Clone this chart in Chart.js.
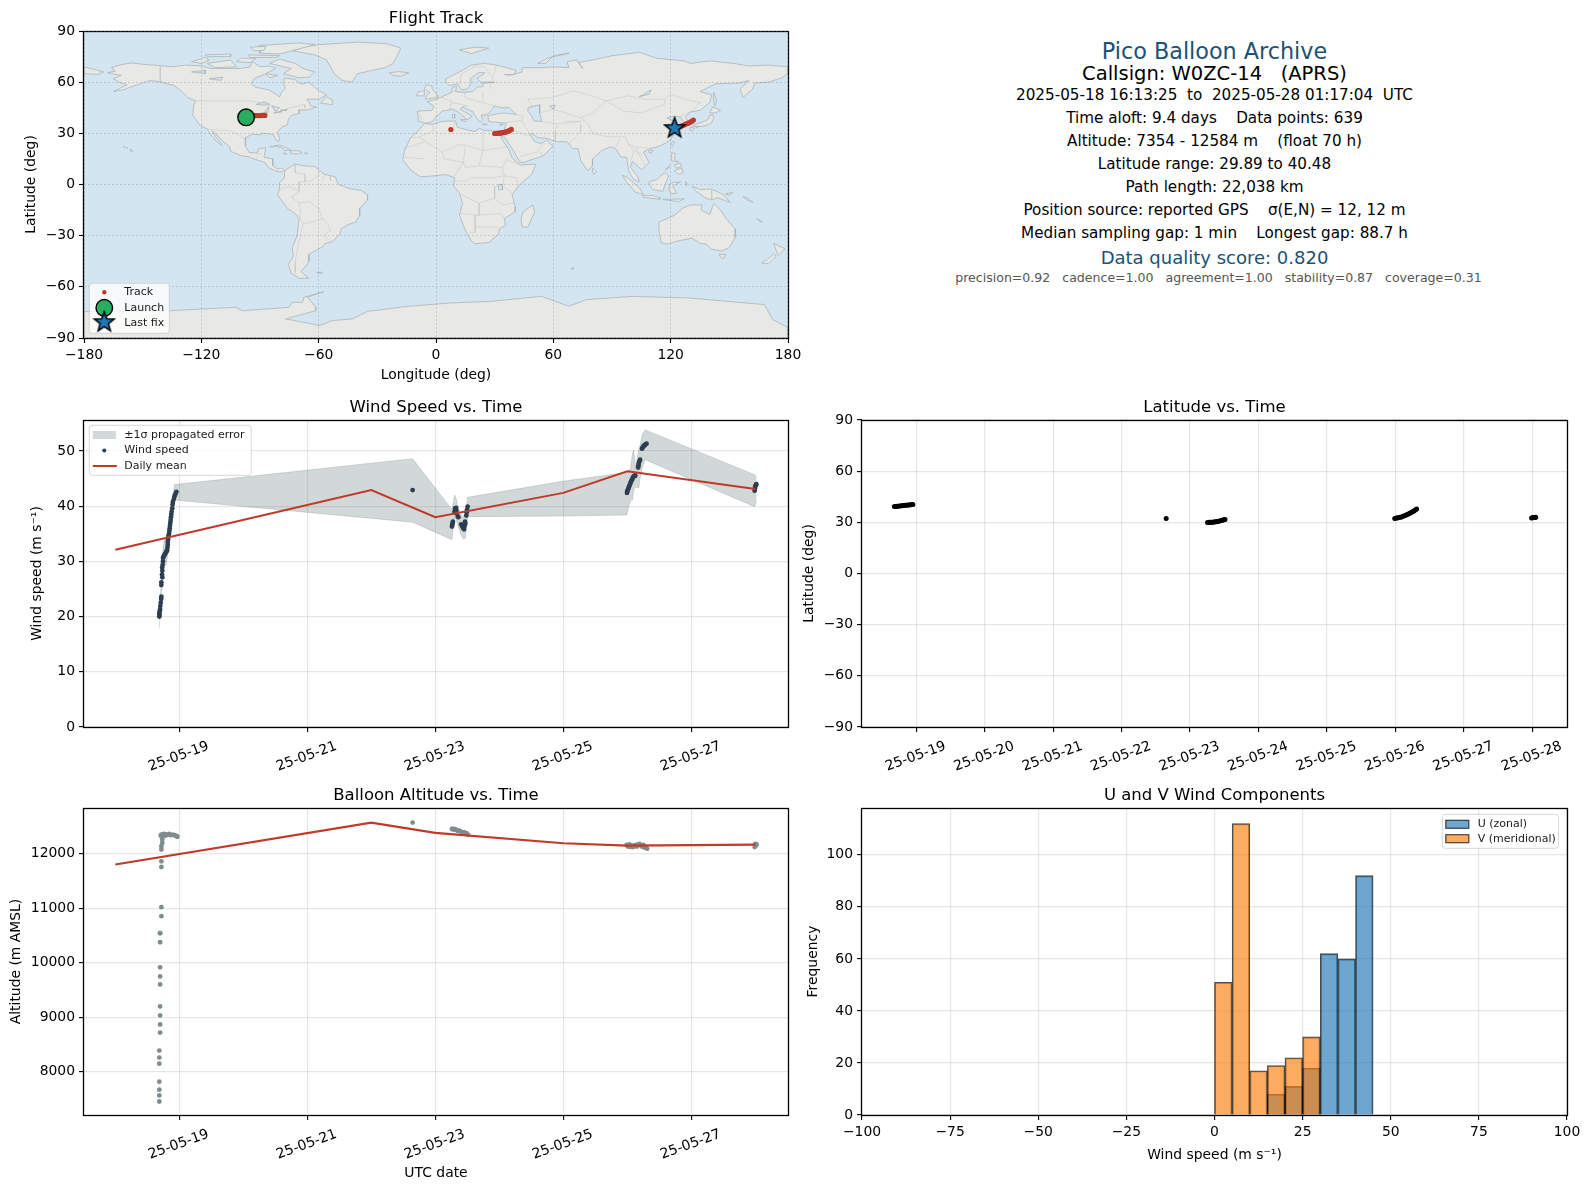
<!DOCTYPE html>
<html>
<head>
<meta charset="utf-8">
<title>Pico Balloon Archive</title>
<script src="https://cdn.jsdelivr.net/npm/chart.js@4"></script>
<style>
  body { margin: 0; background: #fff; font-family: "DejaVu Sans", sans-serif; }
  canvas { position: absolute; }
  .info { position: absolute; transform: translate(-50%, -50%); white-space: pre; color: #000; }
</style>
</head>
<body>
<script>
// Tick labels
const lonTicks = [-180, -120, -60, 0, 60, 120, 180];
const latTicks = [-90, -60, -30, 0, 30, 60, 90];
const windTicks = [0, 10, 20, 30, 40, 50];
const altTicks = [8000, 9000, 10000, 11000, 12000];
const everyOtherDay = [19, 21, 23, 25, 27];
const everyDay = [19, 20, 21, 22, 23, 24, 25, 26, 27, 28];
const histXTicks = [-100, -75, -50, -25, 0, 25, 50, 75, 100];
const histYTicks = [0, 20, 40, 60, 80, 100];

// Wind speed points (day of May 2025, m/s)
const windDays = [18.688, 18.69, 18.688, 18.695, 18.70, 18.703, 18.71, 18.717, 18.72, 18.719, 18.72, 18.735, 18.73, 18.735, 18.733, 18.74, 18.745, 18.745, 18.755, 18.765, 18.775, 18.79, 18.80, 18.81, 18.815, 18.82, 18.82, 18.825, 18.83, 18.84, 18.845, 18.85, 18.855, 18.86, 18.865, 18.87, 18.875, 18.88, 18.89, 18.895, 18.90, 18.915, 18.925, 18.94, 18.955,
  22.646,
  23.26, 23.265, 23.27, 23.276, 23.30, 23.31, 23.315, 23.325, 23.33, 23.31, 23.35, 23.36, 23.405, 23.42, 23.44, 23.45, 23.455, 23.47, 23.465, 23.485, 23.49, 23.495, 23.505,
  25.995, 26.00, 26.01, 26.02, 26.03, 26.04, 26.05, 26.06, 26.07, 26.08, 26.09, 26.10, 26.115, 26.125, 26.17, 26.175, 26.18, 26.19, 26.20, 26.23, 26.24, 26.255, 26.27, 26.285, 26.30,
  27.99, 27.995, 28.00, 28.01, 28.016];
const windSpeeds = [20.0, 20.3, 20.6, 21.0, 21.3, 21.9, 22.5, 23.2, 23.6, 25.7, 26.2, 27.1, 27.6, 28.3, 28.9, 29.4, 30.0, 30.6, 30.9, 31.1, 31.3, 31.6, 31.8, 32.0, 32.5, 33.0, 33.5, 34.0, 34.6, 35.0, 35.5, 36.0, 36.5, 37.0, 37.5, 38.0, 38.5, 39.0, 39.6, 40.3, 40.8, 41.3, 41.8, 42.2, 42.6,
  42.9,
  36.3, 36.6, 36.9, 37.2, 39.0, 39.6, 39.3, 39.7, 39.2, 38.8, 38.2, 38.0, 36.7, 36.3, 36.0, 35.8, 36.3, 36.8, 37.2, 38.3, 38.9, 39.3, 39.9,
  42.4, 42.7, 43.0, 43.3, 43.6, 43.9, 44.2, 44.5, 44.7, 45.0, 45.2, 45.4, 45.5, 45.5, 47.0, 47.4, 47.8, 48.1, 48.4, 50.4, 50.6, 50.9, 51.0, 51.2, 51.3,
  42.8, 43.2, 43.6, 43.8, 44.0];

// Propagated error band
const bandDays = [18.688, 18.70, 18.72, 18.73, 18.75, 18.77, 18.80, 18.82, 18.85, 18.88, 18.905, 18.925, 22.646, 23.26, 23.27, 23.30, 23.33, 23.355, 23.40, 23.44, 23.47, 23.485, 23.505, 24.99, 25.99, 26.02, 26.05, 26.08, 26.10, 26.13, 26.18, 26.20, 26.235, 26.28, 27.99, 28.02];
const bandUpper = [21.6, 22.5, 26.5, 30.0, 33.0, 34.0, 33.8, 35.0, 37.5, 40.0, 42.2, 43.9, 48.6, 39.4, 40.0, 42.0, 41.2, 39.7, 38.5, 38.0, 39.0, 40.0, 41.6, 44.5, 46.1, 46.3, 46.8, 49.5, 50.2, 47.0, 50.5, 51.0, 53.0, 53.8, 45.7, 45.2];
const bandLower = [18.0, 20.0, 24.0, 26.0, 29.0, 29.2, 29.5, 31.5, 34.5, 37.5, 39.5, 41.1, 37.1, 33.9, 35.0, 38.0, 37.5, 36.5, 34.8, 34.0, 34.2, 36.5, 38.1, 38.2, 38.4, 39.8, 41.0, 41.1, 43.0, 43.5, 43.3, 45.0, 47.0, 48.4, 39.9, 41.0];

// Daily means
const meanDays = [18, 22, 23, 25, 26, 28];
const meanWind = [32.1, 42.9, 38.0, 42.4, 46.3, 43.1];
const meanAlt = [11800, 12570, 12380, 12190, 12145, 12165];

// Latitude points
const latDays = [18.68, 18.70, 18.72, 18.74, 18.76, 18.78, 18.80, 18.82, 18.84, 18.86, 18.88, 18.90, 18.92, 18.94, 18.95,
  22.651,
  23.255, 23.27, 23.285, 23.30, 23.32, 23.335, 23.35, 23.37, 23.385, 23.40, 23.42, 23.44, 23.46, 23.48, 23.495, 23.51,
  25.99, 26.01, 26.03, 26.05, 26.07, 26.09, 26.11, 26.13, 26.15, 26.17, 26.19, 26.21, 26.23, 26.25, 26.27, 26.29, 26.31,
  27.99, 28.00, 28.02, 28.04, 28.05];
const latValues = [39.3, 39.3, 39.4, 39.5, 39.6, 39.7, 39.7, 39.9, 40.0, 40.0, 40.2, 40.1, 40.3, 40.4, 40.5,
  32.3,
  29.9, 29.9, 30.0, 30.0, 30.1, 30.1, 30.2, 30.3, 30.4, 30.5, 30.7, 30.9, 31.1, 31.3, 31.5, 31.7,
  32.3, 32.5, 32.6, 32.8, 33.0, 33.2, 33.5, 33.8, 34.1, 34.6, 34.9, 35.3, 35.8, 36.2, 36.7, 37.3, 37.8,
  32.6, 32.7, 32.8, 32.9, 33.0];

// Altitude points
const altDays = [18.688, 18.688, 18.688, 18.688, 18.688, 18.688, 18.688, 18.70, 18.70, 18.70, 18.70, 18.70, 18.70, 18.70, 18.70, 18.70, 18.70, 18.72, 18.72, 18.72, 18.72, 18.72, 18.72, 18.734, 18.734, 18.734,
  18.71, 18.72, 18.73, 18.74, 18.75, 18.76, 18.77, 18.78, 18.79, 18.80, 18.82, 18.84, 18.86, 18.88, 18.90, 18.92, 18.94, 18.96, 18.97,
  22.646,
  23.26, 23.27, 23.29, 23.31, 23.33, 23.35, 23.37, 23.39, 23.41, 23.43, 23.45, 23.47, 23.49, 23.51,
  25.99, 26.01, 26.03, 26.05, 26.07, 26.09, 26.11, 26.13, 26.15, 26.17, 26.19, 26.21, 26.23, 26.25, 26.27, 26.29, 26.31,
  27.99, 28.00, 28.01, 28.02];
const altValues = [7453, 7564, 7669, 7816, 8147, 8258, 8387, 8718, 8865, 9031, 9196, 9601, 9748, 9914, 10374, 10540, 10540, 10853, 11018, 11755, 11859, 12074, 12135, 12196, 12260, 12300,
  12330, 12350, 12320, 12350, 12340, 12360, 12340, 12330, 12350, 12340, 12350, 12360, 12340, 12340, 12350, 12340, 12330, 12320, 12310,
  12570,
  12450, 12460, 12440, 12450, 12430, 12420, 12420, 12410, 12400, 12390, 12390, 12380, 12370, 12350,
  12160, 12130, 12170, 12120, 12150, 12120, 12140, 12160, 12130, 12170, 12180, 12150, 12130, 12160, 12110, 12130, 12090,
  12120, 12180, 12150, 12170];

// Balloon track
const trackLons = [-96.5, -95.5, -94.6, -93.8, -93.0, -92.2, -91.4, -90.6, -89.8, -89.0, -88.3, -87.5,
  7.6,
  30.0, 30.6, 31.2, 31.8, 32.4, 33.0, 33.6, 34.2, 34.8, 35.4, 36.0, 36.6, 37.2, 37.8, 38.5,
  123.0, 123.8, 124.6, 125.4, 126.2, 127.0, 127.8, 128.6, 129.4, 130.2, 131.0, 131.6];
const trackLats = [39.6, 39.8, 40.0, 40.2, 40.3, 40.4, 40.4, 40.4, 40.4, 40.5, 40.5, 40.5,
  32.2,
  29.9, 29.9, 30.0, 30.0, 30.1, 30.2, 30.3, 30.4, 30.5, 30.7, 30.9, 31.1, 31.4, 31.8, 32.3,
  33.0, 33.4, 33.8, 34.2, 34.6, 35.0, 35.4, 35.8, 36.2, 36.7, 37.2, 37.8];
const launchPoint = [-97.1, 39.4];
const lastFixPoint = [122.0, 33.0];

// Histogram bins, 5 m/s wide
const binCentres = [2.5, 7.5, 12.5, 17.5, 22.5, 27.5, 32.5, 37.5, 42.5];
const uCounts = [0, 0, 0, 8, 11, 18, 62, 60, 92];
const vCounts = [51, 112, 17, 19, 22, 30, 0, 0, 0];

// Coastlines, [lon, lat]
const landNorthAmerica = [[-168,65.5],[-164,66.5],[-166,68.5],[-162,70],[-156,71.3],[-150,70.5],[-141,69.7],[-135,69],[-128,70],[-120,69.5],[-115,68],[-108,68],[-100,68],[-95,69],[-94,72],[-90,69],[-85,69.5],[-82,68],[-87,65],[-93,62],[-94.5,59],[-92,57],[-85,55.3],[-82,53],[-80,51.3],[-79,54],[-77,56.5],[-78,59],[-77.5,62.5],[-72,61.5],[-69,58.8],[-65,60],[-61,56],[-56,52.5],[-60,50],[-66,50],[-65,48.5],[-64,46],[-61,45.5],[-65.5,43.7],[-70,43.7],[-70,41.7],[-74,40.5],[-75.5,38],[-76,35],[-79,33.5],[-81,31],[-80,27],[-80.5,25.2],[-82,26.5],[-83,29],[-85,29.7],[-89,30],[-90,29],[-94,29.6],[-97.2,27.5],[-97.5,22.5],[-95.5,18.7],[-91.5,18.5],[-90.5,21],[-87,21.5],[-88,16],[-83.5,15],[-83.5,11],[-81,9],[-79,9.5],[-77.5,8.7],[-78.5,7.5],[-80.5,7.4],[-83,8.3],[-85.7,10],[-87.5,13],[-92,14.5],[-95,16],[-100,17],[-105,19.5],[-105.5,22],[-109,25.5],[-112.5,29.5],[-114.7,31.5],[-113,28.5],[-110,24],[-109.5,23],[-112,25],[-115,29],[-117,32.5],[-120.5,34.5],[-122.5,37.5],[-124.3,40.5],[-124,46],[-123,49],[-127,51],[-130,54.5],[-134,58],[-140,60],[-146,61],[-150,59.5],[-154,58],[-160,55.5],[-165,54.5],[-158,58.5],[-162,60],[-165,62],[-161,64],[-168,65.5]];
const landGreenland = [[-73,78.3],[-68,80.5],[-60,82],[-40,83.5],[-25,82.5],[-18,80],[-20,75],[-22,71],[-26,68.5],[-33,66.8],[-40,65],[-43,60],[-48,61],[-52,65],[-54,69],[-56,73],[-62,76],[-73,78.3]];
const landSouthAmerica = [[-77,8.5],[-72,12],[-68,11],[-62,10.5],[-57,6],[-51.5,4.5],[-50,0],[-44,-2.5],[-38,-3.5],[-35,-6],[-35,-9],[-39,-14],[-39,-18],[-41,-22],[-45,-23.5],[-48.5,-26],[-49,-29],[-53,-33.5],[-57,-34.8],[-58,-36.5],[-62,-39],[-65,-41],[-65,-45],[-66,-47],[-69,-51],[-65,-55],[-70,-55],[-74,-52],[-75.5,-47],[-73,-42],[-73.5,-37],[-71,-30],[-70,-20],[-72,-17],[-76,-14],[-81,-6],[-80,-2.5],[-80,1],[-77.5,4],[-77.5,7],[-77,8.5]];
const landAfrica = [[-6,35.8],[-2,35.2],[3,37],[10,37.3],[11,33.5],[15,32.3],[20,31],[22,33],[25,31.7],[32,31.2],[34.2,31],[32.5,29.8],[34,26],[37,21],[39,15.5],[43,11.5],[51,12],[49,6],[42,-1],[39,-6],[40.5,-13],[40.5,-16],[35,-20],[35.5,-24],[32.5,-26],[32,-29],[27,-34],[20,-34.8],[18,-33],[15,-27],[12,-18],[13.5,-11],[12,-5],[9,-1],[9.5,4],[5,5.8],[-2,5],[-8,4.5],[-13,8.5],[-17,14.5],[-16,20],[-13,27.5],[-9.5,31],[-6,35.8]];
const landEurasia = [[-9,37],[-9.5,43],[-2,43.5],[-1,46],[-4.5,48.5],[1.5,50.5],[4,52],[8,54],[8.5,57],[10.5,57.5],[10,54.5],[14,54],[19,54.5],[21,57],[24,57.5],[24,59.3],[30,60],[23,60],[21,62],[25,65.5],[22,65.7],[17.5,62],[18,59.5],[16,56],[13,55.5],[11,59],[7,58],[5,60],[5,62],[12,66],[18,70],[25,71],[31,70],[41,67],[40,64.5],[35,64.5],[38,64],[44,66],[44,68.5],[54,68.5],[60,69],[68,68.5],[67,72],[72,73],[75,68],[73,71.5],[80,73],[90,75.5],[104,77.5],[113,74],[127,72.5],[130,71],[140,72.5],[152,71],[160,69.5],[170,70],[180,69],[180,65],[177,62.5],[170,60],[163,59.5],[162,56],[157,51],[155.5,56],[160,61],[155,59.5],[143,59],[135,54.5],[141,52.5],[140,48],[135,43.5],[130,42.5],[127.5,39.5],[129.5,36],[127,34.5],[126.5,37],[125,39.5],[122,40],[118,39],[122,37],[119,35],[122,31],[120,26],[114,22.3],[109,21],[106,19],[109,13],[107,10.5],[105,8.7],[103,11],[100.5,13.5],[99.5,10],[103,5],[104,1.5],[101,3],[98.5,8],[97.5,16],[94.5,16],[92,21],[89,22],[85,20],[80,15],[80,11],[77.5,8],[74,14],[72.7,21],[70,21],[67,25],[61,25.2],[56.8,27],[52,27.5],[49,30],[48,29.5],[50.5,25],[54,24],[56.5,26],[59.8,22.5],[55,17],[45,13],[43,13],[39,21],[35,28],[34.3,27.8],[32.8,29.8],[32.5,31.1],[34.8,32],[36,36],[32,36.3],[27,37],[26.5,40],[29,41],[35,42],[41,41],[37.5,45],[33,45],[30,46],[28,43],[26,40.7],[23,40.5],[24,38],[22.5,36.5],[19.5,41],[19,42.5],[13.5,45.5],[12.5,44],[18.5,40],[16,38],[12,42],[8.5,44.2],[3,43],[0,39.5],[-2,36.8],[-5.5,36],[-9,37]];
const landChukotka = [[-180,69],[-175,67.5],[-170,66],[-173,64.5],[-180,65],[-180,69]];
const landAustralia = [[114,-22],[122,-18],[126,-14],[130,-12],[136,-12],[135.5,-15],[140,-17.5],[142,-11],[145.5,-15],[149,-21],[153,-26],[153,-31],[150,-37],[146,-39],[141,-38],[138,-35],[135,-34.5],[131,-31.5],[124,-33],[118,-35],[115,-34],[114,-27],[114,-22]];
const landAntarctica = [[-180,-74.4],[-136.4,-74],[-102.4,-72],[-99,-74],[-75.2,-72],[-73.5,-69.1],[-68.3,-69.1],[-67.5,-66.1],[-57.4,-62.8],[-65.8,-66.1],[-61.5,-72],[-61.5,-74],[-76.9,-78.8],[-63.2,-81.8],[-59.9,-82.8],[-53,-79.8],[-42.8,-78.8],[-35,-74.4],[-14,-71.4],[7,-69.5],[28,-68.5],[54,-65.6],[68,-71.4],[77,-67.5],[100.5,-65.6],[129,-66.5],[168,-70.4],[172,-79],[180,-84],[180,-90],[-180,-90],[-180,-74.4]];
const landIslands = [
  [[-80,73.5],[-72,71],[-68,68],[-62,66],[-65,63],[-70,62.5],[-78,65],[-74,68],[-85,71],[-80,73.5]],
  [[-117,71],[-105,73],[-102,69],[-113,68.5],[-117,71]],
  [[-125,72],[-118,74.5],[-116,73],[-120,71],[-125,72]],
  [[-90,77],[-80,76.5],[-62,82],[-70,83],[-90,81.5],[-90,77]],
  [[-96,76],[-80,75.5],[-82,74.5],[-95,74.5],[-96,76]],
  [[-118,76],[-105,76.5],[-105,75],[-117,75],[-118,76]],
  [[-100,74],[-92,74],[-95,71.5],[-102,72],[-100,74]],
  [[-95,80.5],[-87,81],[-88,78.5],[-93,78.5],[-95,80.5]],
  [[-87,65],[-81,64],[-85,62.5],[-87,65]],
  [[-59,47.7],[-53,46.8],[-53,49.5],[-56,51.5],[-59,47.7]],
  [[-85,22],[-80,23.2],[-74.2,20.2],[-77.5,19.9],[-78.5,21.5],[-82,22.5],[-85,22]],
  [[-74.4,19.8],[-70,19.8],[-68.4,18.6],[-71.5,17.8],[-74.4,18.4],[-74.4,19.8]],
  [[-78.3,18.4],[-76.3,18.2],[-77,17.7],[-78.3,18.4]],
  [[-67.2,18.5],[-65.6,18.4],[-66,17.9],[-67.2,18.5]],
  [[-159.8,22.2],[-159.2,22.2],[-159.4,21.8],[-159.8,22.2]],
  [[-158.2,21.7],[-157.7,21.5],[-158,21.2],[-158.2,21.7]],
  [[-156.2,20.9],[-155.9,20.2],[-155,19.7],[-155.7,18.9],[-156.1,19.7],[-156.2,20.9]],
  [[-61,-51.5],[-58,-51.5],[-59,-52.3],[-61,-51.5]],
  [[49.5,-12],[50.5,-16],[47,-25],[44,-25],[43.5,-20],[44.5,-16],[49.5,-12]],
  [[-5.5,50],[1.3,51.2],[0,53.5],[-2,56],[-2,57.7],[-5,58.6],[-6,56],[-3,54],[-5,52],[-5.5,50]],
  [[-10,52],[-6,52],[-6,55],[-9,54.5],[-10,52]],
  [[-24,65.5],[-19,66.2],[-14,65.5],[-18,63.5],[-22,64],[-24,65.5]],
  [[12,79],[20,80.5],[27,80],[18,76.7],[12,79]],
  [[52,71],[57,74],[68,77],[60,75.5],[56,71],[52,71]],
  [[8.3,41],[9.7,41],[9.5,39],[8.5,39],[8.3,41]],
  [[12.5,38],[15.5,38.2],[15,36.7],[12.5,38]],
  [[23.6,35.5],[26.2,35.2],[24.5,34.9],[23.6,35.5]],
  [[32.4,35],[34.5,35.6],[33.5,34.6],[32.4,35]],
  [[131,34],[133,35.5],[136,36.5],[139,38],[140,40.5],[141.5,41],[142,39],[140.8,36],[139,35],[136,34],[133,34],[131,34]],
  [[130,33.5],[132,33],[131,31],[130,31.5],[130,33.5]],
  [[132.5,34],[134.5,34.2],[133.5,33],[132.5,34]],
  [[140,42],[141.5,45.5],[145.5,43.5],[143,42],[140,42]],
  [[142,54],[143.5,49],[142.5,46],[142,50],[142,54]],
  [[121,25.2],[122,25],[120.8,22],[120,23.5],[121,25.2]],
  [[109,20],[111,20],[110,18.3],[108.7,19],[109,20]],
  [[80,9.7],[82,7.5],[80.7,6],[79.8,8],[80,9.7]],
  [[120.5,18.5],[122.3,18.3],[122,15],[124,13],[120.5,14],[120.5,18.5]],
  [[122,8],[125.5,9.7],[126.5,7],[124,6],[122,8]],
  [[117.2,8.4],[119.5,11.3],[119,10],[117.2,8.4]],
  [[122,11.5],[125,12.5],[125.5,10.5],[123,9.5],[122,11.5]],
  [[109,1.5],[113,3],[117,7],[119,5],[117.5,1],[116,-4],[111,-3],[109,0],[109,1.5]],
  [[95.3,5.5],[98,4],[104,-2],[106,-5.8],[102,-4.5],[97,2],[95.3,5.5]],
  [[105.5,-6.5],[111,-6.5],[114.5,-7.7],[114.5,-8.7],[106,-7.5],[105.5,-6.5]],
  [[120,1],[125,1.5],[121,-1],[123,-5],[120,-5.5],[119,-3],[120,1]],
  [[131,-1],[135,-3],[141,-2.7],[147,-6],[150.5,-10.5],[144,-7.7],[141,-9],[138,-8],[133,-4],[131,-1]],
  [[116,-8.7],[125,-8.5],[127,-8.3],[124,-10],[117,-9],[116,-8.7]],
  [[148,-5.5],[152,-4.5],[150,-6.3],[148,-5.5]],
  [[127.5,1.8],[128.5,0.5],[128,-0.8],[127.5,1.8]],
  [[157,-7],[160,-8.5],[162,-10.5],[159,-9],[157,-7]],
  [[164,-20],[167,-22],[166,-22],[164,-20]],
  [[144.7,-41],[148.3,-41],[147,-43.5],[145.5,-42.5],[144.7,-41]],
  [[172.7,-34.5],[178.5,-37.7],[175,-41.5],[174,-39],[172.7,-34.5]],
  [[172.5,-40.7],[174,-42],[170,-46.5],[166.5,-46],[170.5,-43],[172.5,-40.7]],
  [[69,-49],[70.5,-49],[70,-50],[69,-49]]
];

// Lakes and inland seas
const waterBodies = [
  [[47,45],[53,46.8],[53,42],[54,37],[50,37.3],[49,40],[47,43],[47,45]],
  [[-92,47],[-88,48.5],[-85,47],[-87,46.5],[-92,47]],
  [[-88,42],[-85.5,45.8],[-86,42],[-88,42]],
  [[-84,46],[-80,45],[-82,43],[-84,46]],
  [[-83,42],[-79,43],[-79,42.5],[-83,42]],
  [[-79.5,43.5],[-76,44],[-76.5,43.3],[-79.5,43.5]],
  [[104,51.5],[110,55.5],[109,53],[104,51.5]],
  [[32,0],[34,0],[34,-3],[32,-3],[32,0]],
  [[-125,66],[-118,67],[-118,65],[-125,66]],
  [[-116,62],[-109,63],[-110,61],[-116,62]],
  [[58,46],[61,46.5],[60,44],[58,46]]
];

// Country borders
const borderLines = [
  [[-123,49],[-95,49],[-89,48],[-83,46],[-82.5,42.5],[-79,43],[-75,45],[-70,46],[-67.5,47],[-67,45]],
  [[-141,69.7],[-141,60],[-134,58]],
  [[-117,32.5],[-108,31.5],[-106,31.8],[-101,29.5],[-97.2,26]],
  [[-92,14.5],[-91,18],[-89,18]],
  [[-60,5],[-64,2],[-70,1.5],[-70,-4],[-74,-7.5],[-70,-11],[-65,-10],[-60,-14],[-58,-20],[-55,-24],[-54,-27],[-57.5,-30],[-53.5,-33.5]],
  [[-70,-18],[-68,-23],[-70,-33],[-72,-45],[-72,-52]],
  [[-72,12],[-72,7],[-67,6],[-67,1.5]],
  [[-80,-3],[-75,-1],[-70,-4]],
  [[-70,-11],[-69,-17],[-70,-18]],
  [[-68,-23],[-63,-22],[-58,-20]],
  [[-60,5],[-60,8]],
  [[-57,6],[-58,2]],
  [[-54,5.5],[-54,2.2]],
  [[-8.7,27.7],[-1,32],[-2,35]],
  [[-13,27.5],[-8.7,27.7],[-5,25],[3,19],[12,23.5],[15,23],[24,20],[24,31.5]],
  [[9,30],[9.5,37]],
  [[24,20],[37,22]],
  [[-17,21],[-6,25]],
  [[-6,15],[-17,16]],
  [[3,19],[4,15],[14,13],[15,23]],
  [[14,13],[9,4.5]],
  [[24,20],[22,11],[34,10],[36,14.5],[43,11.5]],
  [[34,10],[35,5],[41,4],[42,-1]],
  [[35,5],[34,-1],[39,-5]],
  [[22,11],[15,10],[14,13]],
  [[30,-1],[34,-1]],
  [[29,4],[35,5]],
  [[29,4],[18,4],[16,2],[9,2]],
  [[30,-1],[30,-8],[22,-11],[13,-6]],
  [[22,-11],[22,-18],[12,-17]],
  [[30,-8],[34,-12],[40,-11]],
  [[22,-18],[33,-17],[35,-20]],
  [[20,-18],[20,-28],[17,-28.5]],
  [[20,-25],[25,-25],[32,-25]],
  [[-9,42],[-7,37]],
  [[2.5,51],[8,49],[7,44]],
  [[8,54.5],[14.5,54],[15,51],[19,49.5],[24,48],[30,46]],
  [[8,48],[13,47],[16,46],[13.5,45.5]],
  [[24,48],[24,54.5]],
  [[28,56],[28,60]],
  [[31,70],[29,62],[28,60]],
  [[12,59],[13,65],[20,69],[25,69],[29,62]],
  [[23,41],[28,42]],
  [[49,46],[47,50],[60,51],[70,55],[77,53],[87,49]],
  [[87,49],[98,52],[107,50],[117,50],[120,53],[127,50],[135,48],[131,43],[130,42.5]],
  [[87,49],[96,43],[105,42],[112,45],[117,47],[117,50]],
  [[87,49],[80,42],[74,39]],
  [[74,39],[78,35],[80,30],[88,28],[97,28],[98,24],[102,22],[108,21.5]],
  [[74,35],[74,31],[70,26],[68,24]],
  [[74,37],[62,35.5],[61,31],[61,25.2]],
  [[44,37.5],[46,33],[48,30]],
  [[36,36.5],[44,37.5],[44.5,40],[41,41]],
  [[35,29.5],[39,32],[46,29],[48,29]],
  [[55,24],[52,20],[55,17]],
  [[43,16.5],[52,19]],
  [[53,42],[60,44],[66,42],[74,39]],
  [[54,37],[62,35.5]],
  [[66,37],[74,37]],
  [[92,22],[94,27]],
  [[98,24],[101,20],[100,15],[99,11]],
  [[102,22],[105,15],[107,11]],
  [[101,20],[105,18]],
  [[125,40],[130,42.5]],
  [[141,-2.7],[141,-9]]
];

const font = 'DejaVu Sans';
const navy = '#2c3e50';
const slate = '#7f8c8d';
const red = '#c0392b';
const gridColor = 'rgba(128,128,128,0.2)';
const mapGridColor = 'rgba(110,120,130,0.35)';
const bandFill = 'rgba(127,140,141,0.35)';
const uFill = 'rgba(31,119,180,0.65)';
const vFill = 'rgba(255,127,14,0.65)';
const barEdge = 'rgba(0,0,0,0.7)';

Chart.defaults.font.family = font;
Chart.defaults.color = '#000';
Chart.defaults.devicePixelRatio = 1;

// chart-area boxes of the five panels
const PAD_LEFT = 80, PAD_BOTTOM = 70, PAD_TOP = 40, PAD_RIGHT = 20;

function toPoints(xs, ys) {
  return xs.map((x, i) => ({ x: x, y: ys[i] }));
}

function toLonLat(list) {
  return list.map(p => ({ x: p[0], y: p[1] }));
}

function minusSign(v) {
  return String(v).replace('-', '\u2212');
}

function dayLabel(v) {
  return '25-05-' + v;
}

// matplotlib style filled star marker
function starImage(size) {
  const c = document.createElement('canvas');
  c.width = size;
  c.height = size;
  const g = c.getContext('2d');
  const mid = size / 2, outer = size / 2 - 1.5, inner = outer * 0.42;
  g.beginPath();
  for (let i = 0; i < 10; i++) {
    const r = i % 2 ? inner : outer;
    const a = -Math.PI / 2 + i * Math.PI / 5;
    g.lineTo(mid + r * Math.cos(a), mid + r * Math.sin(a));
  }
  g.closePath();
  g.fillStyle = '#1f77b4';
  g.fill();
  g.lineWidth = 1.5;
  g.strokeStyle = '#000';
  g.stroke();
  return c;
}

const starMarker = starImage(24);

// Black frame round the plot, plus the panel background
function framePlugin(background) {
  return {
    id: 'frame',
    beforeDatasetsDraw(chart) {
      if (!background) return;
      const a = chart.chartArea;
      chart.ctx.fillStyle = background;
      chart.ctx.fillRect(a.left, a.top, a.width, a.height);
    },
    afterDatasetsDraw(chart) {
      const a = chart.chartArea;
      chart.ctx.strokeStyle = '#000';
      chart.ctx.lineWidth = 1.3;
      chart.ctx.strokeRect(a.left - 0.5, a.top + 0.5, a.width + 1, a.height);
    }
  };
}

// Legend inside the plot; box is relative to the chart-area corner
function boxLegend(box, entries) {
  return {
    id: 'boxLegend',
    afterDraw(chart) {
      const g = chart.ctx, a = chart.chartArea;
      const x0 = box.right === undefined ? a.left + box.left : a.right - box.right - box.width;
      const y0 = box.bottom !== undefined ? a.bottom - box.bottom - box.height : a.top + box.top;
      g.save();
      g.beginPath();
      g.roundRect(x0, y0, box.width, box.height, 3);
      g.fillStyle = 'rgba(255,255,255,0.8)';
      g.fill();
      g.strokeStyle = 'rgba(204,204,204,0.8)';
      g.lineWidth = 1;
      g.stroke();
      g.font = '11px "' + font + '"';
      g.textBaseline = 'middle';
      g.textAlign = 'left';
      entries.forEach((e, i) => {
        const y = y0 + box.first + i * box.step;
        const hx = x0 + 3.5;
        if (e.kind === 'patch') {
          g.fillStyle = e.color;
          g.fillRect(hx, y - 4, 23, 8);
          if (e.edge) {
            g.strokeStyle = e.edge;
            g.lineWidth = 1.2;
            g.strokeRect(hx, y - 4, 23, 8);
          }
        } else if (e.kind === 'line') {
          g.strokeStyle = e.color;
          g.lineWidth = 2;
          g.beginPath();
          g.moveTo(hx, y);
          g.lineTo(hx + 24, y);
          g.stroke();
        } else if (e.kind === 'dot') {
          g.fillStyle = e.color;
          g.beginPath();
          g.arc(hx + 11.5, y, e.size, 0, Math.PI * 2);
          g.fill();
          if (e.edge) {
            g.strokeStyle = e.edge;
            g.lineWidth = 1.4;
            g.stroke();
          }
        } else if (e.kind === 'star') {
          g.drawImage(starMarker, hx + 11.5 - 12, y - 13);
        }
        g.fillStyle = '#1a1a1a';
        g.fillText(e.label, x0 + box.text, y);
      });
      g.restore();
    }
  };
}

function linearAxis(cfg) {
  return {
    type: 'linear',
    min: cfg.min,
    max: cfg.max,
    offset: false,
    afterBuildTicks(scale) {
      scale.ticks = cfg.ticks.map(v => ({ value: v }));
    },
    afterFit(scale) {
      if (cfg.isX) scale.height = PAD_BOTTOM; else scale.width = PAD_LEFT;
    },
    grid: {
      offset: false,
      color: cfg.gridColor || gridColor,
      lineWidth: cfg.gridWidth || 1.2,
      z: cfg.gridZ || 0,
      tickColor: '#000',
      tickLength: 5,
      tickWidth: 1.1,
      tickBorderDash: []
    },
    border: { display: false, dash: cfg.dash || [] },
    ticks: {
      autoSkip: false,
      font: { size: 13.9 },
      color: '#000',
      padding: cfg.tickPad === undefined ? 4 : cfg.tickPad,
      minRotation: cfg.rotate || 0,
      maxRotation: cfg.rotate || 0,
      labelOffset: cfg.labelOffset || 0,
      callback: cfg.format || minusSign
    },
    title: {
      display: !!cfg.title,
      text: cfg.title,
      font: { size: 13.9 },
      color: '#000',
      padding: cfg.isX
        ? { top: 0, bottom: PAD_BOTTOM - cfg.titleDist - 8.3 }
        : { top: PAD_LEFT - cfg.titleDist - 8.3, bottom: 0 }
    }
  };
}

function makeChart(box, title, datasets, xAxis, yAxis, plugins, chartType) {
  const canvas = document.createElement('canvas');
  const w = box.right - box.left + PAD_LEFT + PAD_RIGHT;
  const h = box.bottom - box.top + PAD_TOP + PAD_BOTTOM;
  canvas.width = w;
  canvas.height = h;
  canvas.style.left = (box.left - PAD_LEFT) + 'px';
  canvas.style.top = (box.top - PAD_TOP) + 'px';
  canvas.style.width = w + 'px';
  canvas.style.height = h + 'px';
  document.body.appendChild(canvas);
  // last in the list is painted on top
  datasets.forEach((d, i) => { d.order = datasets.length - i; });
  return new Chart(canvas.getContext('2d'), {
    type: chartType || 'scatter',
    data: { datasets: datasets },
    plugins: plugins,
    options: {
      responsive: false,
      animation: false,
      events: [],
      layout: { padding: { right: PAD_RIGHT, top: 0, left: 0, bottom: 0 } },
      scales: { x: xAxis, y: yAxis },
      plugins: {
        legend: { display: false },
        tooltip: { enabled: false },
        title: {
          display: true,
          text: title,
          fullSize: false,
          font: { size: 16.5, weight: 'normal' },
          color: '#000',
          padding: { top: 17.7, bottom: 2.5 }
        }
      }
    }
  });
}

function pointsSet(xs, ys, color, radius) {
  return {
    data: toPoints(xs, ys),
    showLine: false,
    backgroundColor: color,
    borderColor: color,
    pointRadius: radius,
    pointBorderWidth: 0
  };
}

function lineSet(xs, ys, color, width) {
  return {
    data: toPoints(xs, ys),
    showLine: true,
    fill: false,
    borderColor: color,
    borderWidth: width,
    pointRadius: 0,
    tension: 0
  };
}

// Flight track map
function landSet(outline) {
  return {
    data: toLonLat(outline),
    showLine: true,
    fill: 'shape',
    backgroundColor: '#e8e8e4',
    borderColor: 'rgba(170,178,182,0.85)',
    borderWidth: 0.9,
    pointRadius: 0,
    tension: 0
  };
}

function waterSet(outline) {
  const d = landSet(outline);
  d.backgroundColor = '#d4e5f2';
  return d;
}

function borderSet(line) {
  return {
    data: toLonLat(line),
    showLine: true,
    fill: false,
    borderColor: 'rgba(190,192,190,0.55)',
    borderWidth: 0.8,
    pointRadius: 0,
    tension: 0
  };
}

const mapSets = [landNorthAmerica, landGreenland, landSouthAmerica, landAfrica, landEurasia, landChukotka, landAustralia, landAntarctica]
  .concat(landIslands).map(landSet)
  .concat(waterBodies.map(waterSet))
  .concat(borderLines.map(borderSet));
mapSets.push(pointsSet(trackLons, trackLats, red, 2.6));
mapSets.push({
  data: [{ x: launchPoint[0], y: launchPoint[1] }],
  showLine: false,
  backgroundColor: '#27ae60',
  borderColor: '#000',
  pointRadius: 8.3,
  pointBorderWidth: 1.4
});
mapSets.push({
  data: [{ x: lastFixPoint[0], y: lastFixPoint[1] }],
  showLine: false,
  pointStyle: starMarker
});

makeChart(
  { left: 84, right: 788, top: 31, bottom: 338 },
  'Flight Track',
  mapSets,
  linearAxis({ isX: true, min: -180, max: 180, ticks: lonTicks, title: 'Longitude (deg)', titleDist: 37, gridZ: 1, dash: [2, 2], gridColor: mapGridColor, gridWidth: 0.8 }),
  linearAxis({ min: -90, max: 90, ticks: latTicks, title: 'Latitude (deg)', titleDist: 53, gridZ: 1, dash: [2, 2], gridColor: mapGridColor, gridWidth: 0.8 }),
  [framePlugin('#d4e5f2'), boxLegend({ left: 5.3, bottom: 4.7, width: 80, height: 50, first: 9, step: 15.5, text: 35 }, [
    { kind: 'dot', label: 'Track', color: red, size: 2.2 },
    { kind: 'dot', label: 'Launch', color: '#27ae60', edge: '#000', size: 8.3 },
    { kind: 'star', label: 'Last fix' }
  ])]
);

// Wind speed vs. time
makeChart(
  { left: 84, right: 788, top: 420, bottom: 727 },
  'Wind Speed vs. Time',
  [
    Object.assign(lineSet(bandDays, bandUpper, 'rgba(127,140,141,0.35)', 0.8), { fill: '+1', backgroundColor: bandFill }),
    lineSet(bandDays, bandLower, 'rgba(127,140,141,0.35)', 0.8),
    pointsSet(windDays, windSpeeds, navy, 2.4),
    lineSet(meanDays, meanWind, red, 2)
  ],
  linearAxis({ isX: true, min: 17.511, max: 28.511, ticks: everyOtherDay, rotate: 20, labelOffset: 29, tickPad: 6, format: dayLabel }),
  linearAxis({ min: 0, max: 55.6, ticks: windTicks, title: 'Wind speed (m s\u207B\u00B9)', titleDist: 47 }),
  [framePlugin(), boxLegend({ left: 5.3, top: 5.3, width: 162, height: 50, first: 9.7, step: 15.5, text: 35 }, [
    { kind: 'patch', label: '\u00B11\u03C3 propagated error', color: bandFill },
    { kind: 'dot', label: 'Wind speed', color: navy, size: 2 },
    { kind: 'line', label: 'Daily mean', color: red }
  ])]
);

// Latitude vs. time
makeChart(
  { left: 862, right: 1567, top: 420, bottom: 727 },
  'Latitude vs. Time',
  [pointsSet(latDays, latValues, '#000', 2.5)],
  linearAxis({ isX: true, min: 18.207, max: 28.507, ticks: everyDay, rotate: 20, labelOffset: 29, tickPad: 6, format: dayLabel }),
  linearAxis({ min: -90, max: 90, ticks: latTicks, title: 'Latitude (deg)', titleDist: 53 }),
  [framePlugin()]
);

// Balloon altitude vs. time
makeChart(
  { left: 84, right: 788, top: 808, bottom: 1115 },
  'Balloon Altitude vs. Time',
  [
    pointsSet(altDays, altValues, slate, 2.4),
    lineSet(meanDays, meanAlt, red, 2.2)
  ],
  linearAxis({ isX: true, min: 17.511, max: 28.511, ticks: everyOtherDay, rotate: 20, labelOffset: 29, tickPad: 6, format: dayLabel, title: 'UTC date', titleDist: 58 }),
  linearAxis({ min: 7205, max: 12837, ticks: altTicks, title: 'Altitude (m AMSL)', titleDist: 68, format: v => String(v) }),
  [framePlugin()]
);

// U and V histogram
function barSet(counts, fill) {
  return {
    data: toPoints(binCentres, counts),
    backgroundColor: fill,
    borderColor: barEdge,
    borderWidth: 1.2,
    grouped: false,
    barPercentage: 1,
    categoryPercentage: 1
  };
}

makeChart(
  { left: 862, right: 1567, top: 808, bottom: 1115 },
  'U and V Wind Components',
  [barSet(uCounts, uFill), barSet(vCounts, vFill)],
  linearAxis({ isX: true, min: -100, max: 100, ticks: histXTicks, title: 'Wind speed (m s\u207B\u00B9)', titleDist: 40 }),
  linearAxis({ min: 0, max: 118, ticks: histYTicks, title: 'Frequency', titleDist: 49 }),
  [framePlugin(), boxLegend({ right: 8.5, top: 6.3, width: 116.2, height: 34, first: 10, step: 14.4, text: 35.4 }, [
    { kind: 'patch', label: 'U (zonal)', color: uFill, edge: barEdge },
    { kind: 'patch', label: 'V (meridional)', color: vFill, edge: barEdge }
  ])],
  'bar'
);

// Summary text block, top right: text, y, size, colour, x
const summaryLines = [
  ['Pico Balloon Archive', 50.7, 22.3, '#1a5276', 1214.5],
  ['Callsign: W0ZC-14   (APRS)', 73, 19.5, '#000', 1214.5],
  ['2025-05-18 16:13:25  to  2025-05-28 01:17:04  UTC', 94.5, 15.2, '#000', 1214.5],
  ['Time aloft: 9.4 days    Data points: 639', 117.5, 15.2, '#000', 1214.5],
  ['Altitude: 7354 - 12584 m    (float 70 h)', 140.5, 15.2, '#000', 1214.5],
  ['Latitude range: 29.89 to 40.48', 163.5, 15.2, '#000', 1214.5],
  ['Path length: 22,038 km', 186.5, 15.2, '#000', 1214.5],
  ['Position source: reported GPS    \u03C3(E,N) = 12, 12 m', 210, 15.2, '#000', 1214.5],
  ['Median sampling gap: 1 min    Longest gap: 88.7 h', 233, 15.2, '#000', 1214.5],
  ['Data quality score: 0.820', 256.5, 18, '#1a5276', 1214.5],
  ['precision=0.92   cadence=1.00   agreement=1.00   stability=0.87   coverage=0.31', 277, 12.55, '#555', 1218.5]
];

summaryLines.forEach(line => {
  const div = document.createElement('div');
  div.className = 'info';
  div.textContent = line[0];
  div.style.top = line[1] + 'px';
  div.style.fontSize = line[2] + 'px';
  div.style.color = line[3];
  div.style.left = line[4] + 'px';
  document.body.appendChild(div);
});
</script>
</body>
</html>
